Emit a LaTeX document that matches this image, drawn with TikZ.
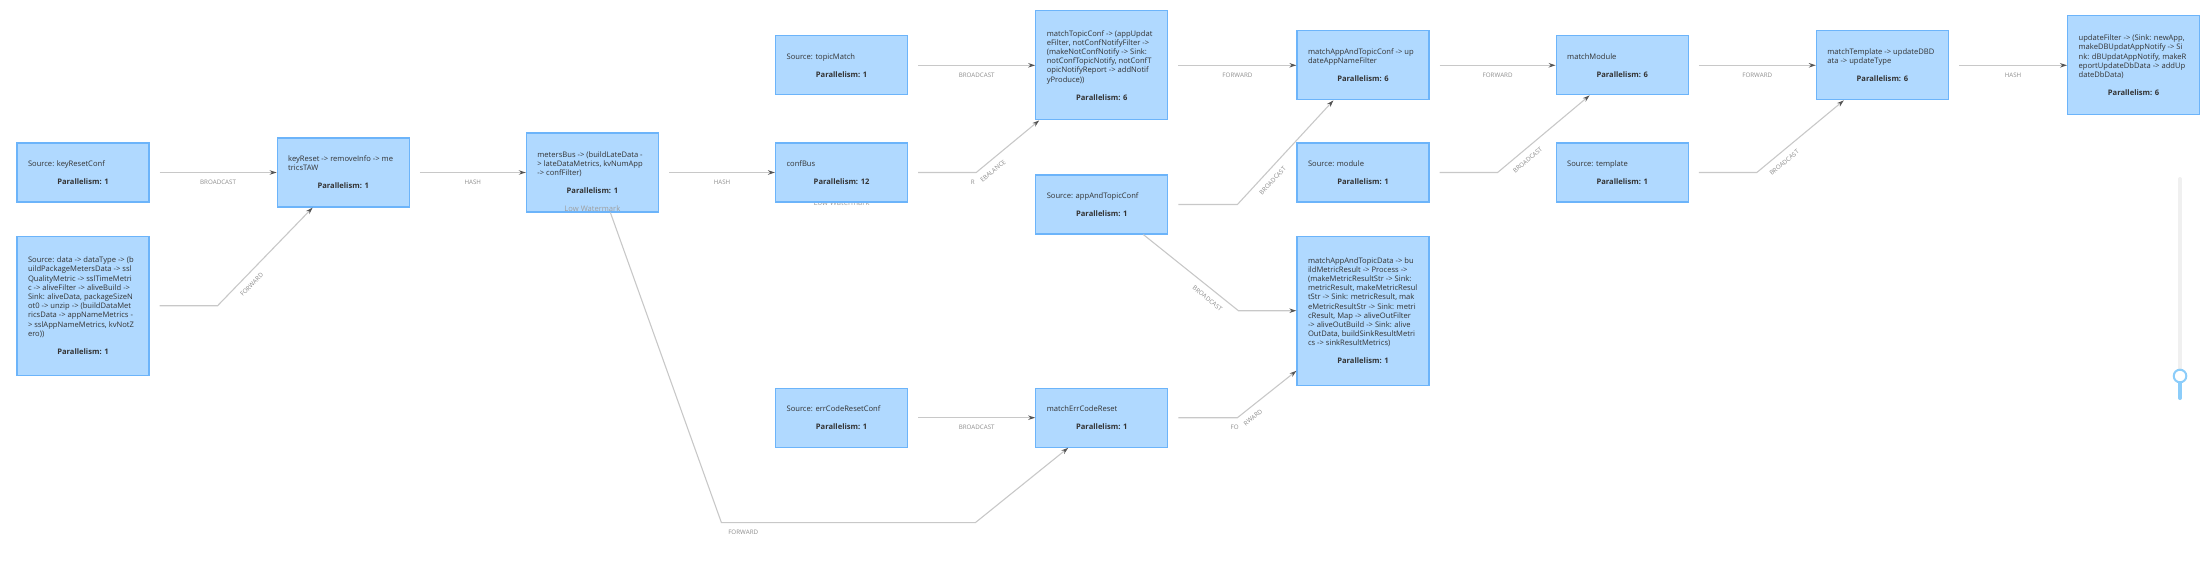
\documentclass[tikz,border=0pt]{standalone}
\usepackage{fontspec}
\setmainfont{Open Sans}
\usetikzlibrary{arrows.meta,positioning,decorations.text,backgrounds}
\definecolor{jobfill}{RGB}{176,217,255}
\definecolor{jobline}{RGB}{108,180,250}
\definecolor{jobtext}{RGB}{51,51,51}
\definecolor{edgegray}{RGB}{200,200,200}
\definecolor{tipgray}{RGB}{85,85,85}
\definecolor{lblgray}{RGB}{140,140,140}
\definecolor{knobblue}{RGB}{140,205,250}
\newcommand{\plm}[1]{\\[8.8pt]\makebox[110pt]{\bfseries Parallelism: #1}}
\tikzset{
  job/.style={draw=jobline, fill=jobfill, line width=1.2pt, rectangle, minimum width=132pt, minimum height=49pt+10pt*#1, inner sep=3pt, align=left, font=\fontsize{7.6}{9.2}\selectfont, text=jobtext},
  job/.default=1,
  arr/.style={draw=edgegray, line width=1.1pt, -{Stealth[length=7pt, width=4.5pt, color=tipgray]}},
  lbl/.style={postaction={decorate, decoration={text along path, text align=center, raise=-12pt, text={|\fontsize{6.2}{7}\selectfont\color{lblgray}|#1}}}},
  lwm/.style={font=\fontsize{7.6}{9}\selectfont, text=black!38, inner sep=0pt},
}
\begin{document}
\begin{tikzpicture}[x=1pt, y=-1pt]
\useasboundingbox (0,0) rectangle (2200,560);

% sources and first operators
\node[job] (keyconf) at (83,172.5) {Source: keyResetConf\plm{1}};
\node[job=9, below=33pt of keyconf] (data) {Source: data -> dataType -> (b\\uildPackageMetersData -> ssl\\QualityMetric -> sslTimeMetri\\c -> aliveFilter -> aliveBuild ->\\Sink: aliveData, packageSizeN\\ot0 -> unzip -> (buildDataMet\\ricsData -> appNameMetrics -\\> sslAppNameMetrics, kvNotZ\\ero))\plm{1}};
\node[job=2, right=127pt of keyconf] (keyreset) {keyReset -> removeInfo -> me\\tricsTAW\plm{1}};
\node[job=3, right=116pt of keyreset] (metersbus) {metersBus -> (buildLateData -\\> lateDataMetrics, kvNumApp\\-> confFilter)\plm{1}};
\node[job, right=116pt of metersbus] (confbus) {confBus\plm{12}};
\node[lwm, below=-7pt of metersbus] (lwm1) {Low Watermark};
\begin{pgfonlayer}{background}
\node[lwm, below=-3pt of confbus] (lwm2) {Low Watermark};
\end{pgfonlayer}

% upper row
\node[job, above=47pt of confbus] (topicmatch) {Source: topicMatch\plm{1}};
\node[job=6, right=127pt of topicmatch] (matchtopic) {matchTopicConf -> (appUpdat\\eFilter, notConfNotifyFilter ->\\(makeNotConfNotify -> Sink:\\notConfTopicNotify, notConfT\\opicNotifyReport -> addNotif\\yProduce))\plm{6}};
\node[job=2, right=128pt of matchtopic] (matchappconf) {matchAppAndTopicConf -> up\\dateAppNameFilter\plm{6}};
\node[job, right=126pt of matchappconf] (matchmodule) {matchModule\plm{6}};
\node[job=2, right=127pt of matchmodule] (matchtemplate) {matchTemplate -> updateDBD\\ata -> updateType\plm{6}};
\node[job=5, right=118pt of matchtemplate] (updatefilter) {updateFilter -> (Sink: newApp,\\makeDBUpdatAppNotify -> Si\\nk: dBUpdatAppNotify, makeR\\eportUpdateDbData -> addUp\\dateDbData)\plm{6}};

% lower part
\node[job, below=54pt of matchtopic] (appconf) {Source: appAndTopicConf\plm{1}};
\node[job, below=42pt of matchappconf] (module) {Source: module\plm{1}};
\node[job=10, below=33pt of module] (matchappdata) {matchAppAndTopicData -> bu\\ildMetricResult -> Process ->\\(makeMetricResultStr -> Sink:\\metricResult, makeMetricResul\\tStr -> Sink: metricResult, mak\\eMetricResultStr -> Sink: metri\\cResult, Map -> aliveOutFilter\\-> aliveOutBuild -> Sink: alive\\OutData, buildSinkResultMetri\\cs -> sinkResultMetrics)\plm{1}};
\node[job, below=47pt of matchmodule] (template) {Source: template\plm{1}};
\node[job, below=185pt of confbus] (errconf) {Source: errCodeResetConf\plm{1}};
\node[job, right=127pt of errconf] (matcherr) {matchErrCodeReset\plm{1}};

% edges
\draw[arr, lbl=BROADCAST] ([xshift=10pt]keyconf.east) -- (keyreset);
\draw[arr, lbl=FORWARD] ([xshift=10pt]data.east) -- ++(58pt,0pt) -- ([xshift=36pt]keyreset.south west);
\draw[arr, lbl=HASH] ([xshift=10pt]keyreset.east) -- (metersbus);
\draw[arr, lbl=HASH] ([xshift=10pt]metersbus.east) -- (confbus);
\draw[arr, lbl=FORWARD] ([xshift=18pt]metersbus.south) -- ++(111pt,-310pt) -- ++(254pt,0pt) -- ([xshift=33pt]matcherr.south west);
\draw[arr, lbl=BROADCAST] ([xshift=10pt]topicmatch.east) -- (matchtopic);
\draw[arr, lbl=REBALANCE] ([xshift=10pt]confbus.east) -- ++(58pt,0pt) -- ([xshift=4pt]matchtopic.south west);
\draw[arr, lbl=BROADCAST] ([xshift=10pt]errconf.east) -- (matcherr);
\draw[arr, lbl=FORWARD] ([xshift=10pt]matchtopic.east) -- (matchappconf);
\draw[arr, lbl=BROADCAST] ([xshift=10pt]appconf.east) -- ++(59pt,0pt) -- ([xshift=37pt]matchappconf.south west);
\draw[arr, lbl=BROADCAST] ([xshift=-25pt]appconf.south east) -- ([xshift=-58pt]matchappdata.west) -- (matchappdata.west);
\draw[arr, lbl=FORWARD] ([xshift=10pt]matcherr.east) -- ++(59pt,0pt) -- ([yshift=15pt]matchappdata.south west);
\draw[arr, lbl=FORWARD] ([xshift=10pt]matchappconf.east) -- (matchmodule);
\draw[arr, lbl=BROADCAST] ([xshift=10pt]module.east) -- ++(58pt,0pt) -- ([xshift=34pt]matchmodule.south west);
\draw[arr, lbl=FORWARD] ([xshift=10pt]matchmodule.east) -- (matchtemplate);
\draw[arr, lbl=BROADCAST] ([xshift=10pt]template.east) -- ++(58pt,0pt) -- ([xshift=28pt]matchtemplate.south west);
\draw[arr, lbl=HASH] ([xshift=10pt]matchtemplate.east) -- (updatefilter);

% zoom slider
\draw[line width=4pt, line cap=round, black!6] (2180,179) -- (2180,398);
\draw[line width=4pt, line cap=round, knobblue] (2180,376) -- (2180,398);
\draw[line width=2pt, knobblue, fill=white] (2180,376) circle (6.3pt);

\end{tikzpicture}
\end{document}
